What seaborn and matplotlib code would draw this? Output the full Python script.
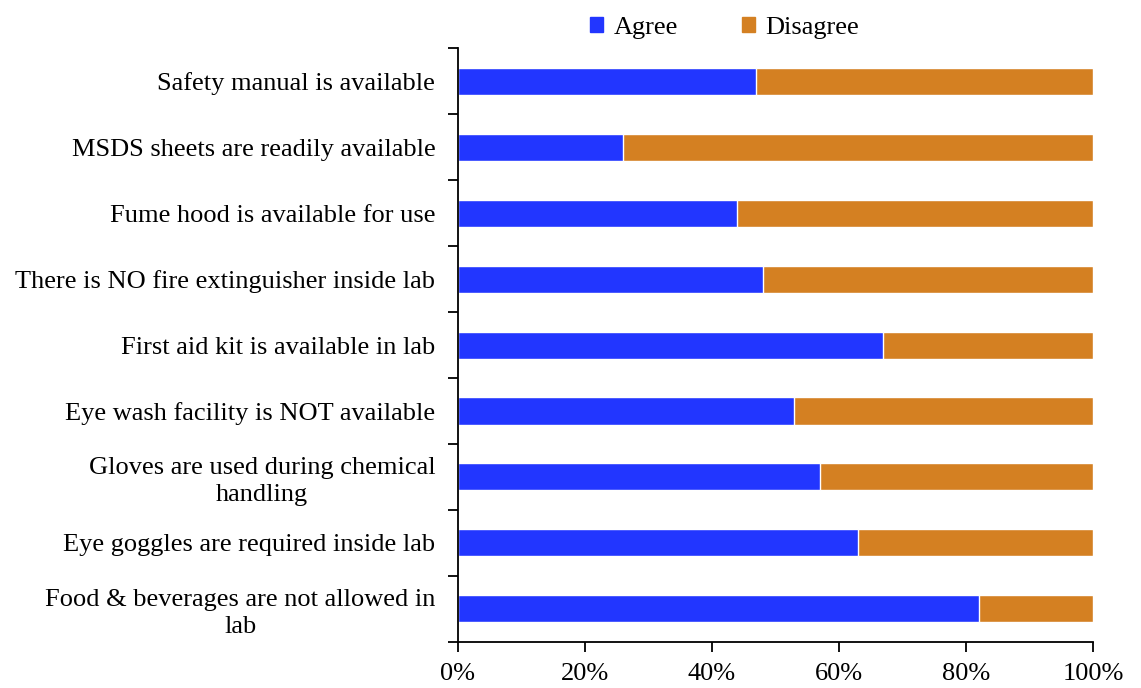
import pandas as pd
import matplotlib.pyplot as plt
import seaborn as sns
from matplotlib.patches import Patch

#Data (percent of respondents)
statements = [
    "Safety manual is available",
    "MSDS sheets are readily available",
    "Fume hood is available for use",
    "There is NO fire extinguisher inside lab",
    "First aid kit is available in lab",
    "Eye wash facility is NOT available",
    "Gloves are used during chemical\nhandling",
    "Eye goggles are required inside lab",
    "Food & beverages are not allowed in\nlab",
]
agree = [47, 26, 44, 48, 67, 53, 57, 63, 82]
disagree = [53, 74, 56, 52, 33, 47, 43, 37, 18]

blue = "#2236ff"
orange = "#d48022"

df = pd.DataFrame({"Statement": statements, "Agree": agree, "Disagree": disagree})
df["Total"] = df["Agree"] + df["Disagree"]

sns.set_style("ticks")
plt.rcParams['font.family'] = ['Liberation Serif', 'DejaVu Serif']
plt.rcParams['text.color'] = 'black'
plt.rcParams['xtick.color'] = 'black'
plt.rcParams['ytick.color'] = 'black'

fig, ax = plt.subplots(figsize=(11.41, 6.88), dpi=100)
fig.subplots_adjust(left=0.401, right=0.958, top=0.93, bottom=0.067)

#Stacked bars: total in orange, agree on top in blue
sns.barplot(data=df, y="Statement", x="Total", color=orange, width=0.41,
            saturation=1, orient="h", ax=ax)
sns.barplot(data=df, y="Statement", x="Agree", color=blue, width=0.41,
            saturation=1, orient="h", ax=ax)

ax.set_xlim(0, 100)
ax.set_ylim(len(statements) - 0.5, -0.5)
ax.set_xticks(range(0, 101, 20))
ax.set_xticklabels([f"{v}%" for v in range(0, 101, 20)], fontsize=19)
ax.set_xlabel("")
ax.set_ylabel("")

#Category ticks sit between bars
ax.set_yticks([i - 0.5 for i in range(len(statements) + 1)], minor=True)
ax.tick_params(axis="y", which="major", length=0, pad=16, labelsize=19)
ax.tick_params(axis="y", which="minor", length=7, width=1.3, direction="out")
ax.tick_params(axis="x", length=7, width=1.3, pad=8)
for lbl in ax.get_yticklabels():
    lbl.set_multialignment("center")
    lbl.set_linespacing(1.28)

sns.despine(ax=ax, top=True, right=True)
for side in ["left", "bottom"]:
    ax.spines[side].set_linewidth(1.3)
    ax.spines[side].set_color("black")

handles = [Patch(color=blue, label="Agree"), Patch(color=orange, label="Disagree")]
fig.legend(handles=handles, loc="upper center", bbox_to_anchor=(0.635, 1.01), ncol=2,
           frameon=False, fontsize=19, handlelength=0.5, handleheight=0.5,
           handletextpad=0.4, columnspacing=2.4)

plt.savefig("out.png", dpi=100)
plt.close()
